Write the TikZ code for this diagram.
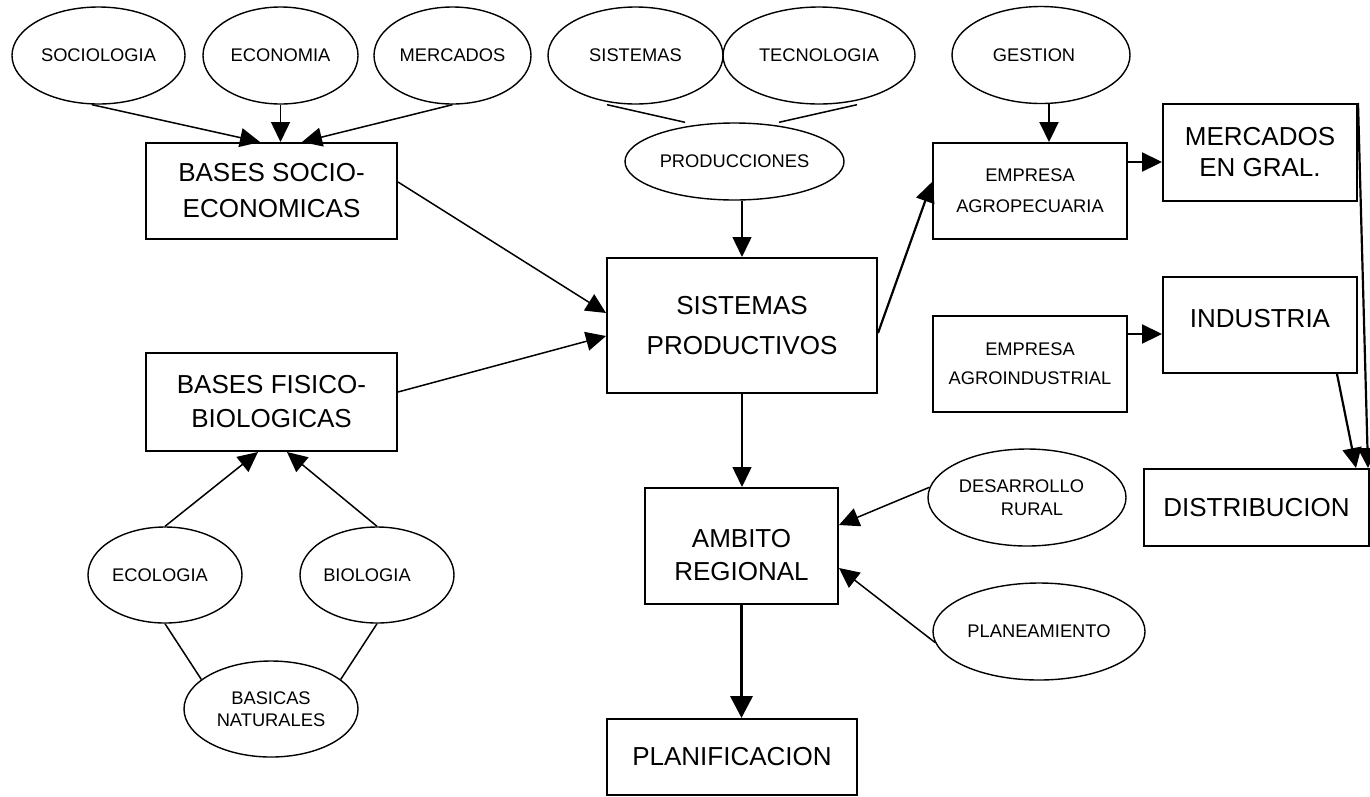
\documentclass[tikz,border=0pt]{standalone}
\usepackage{fontspec}
\setmainfont{Liberation Sans}
\usetikzlibrary{arrows.meta,shapes.geometric,calc}
\begin{document}
\begin{tikzpicture}[x=1pt,y=-1pt,
  ell/.style={ellipse, draw, line width=1.4pt, inner sep=0pt, align=center,
    font=\fontsize{18.3}{22.5}\selectfont},
  box/.style={rectangle, draw, line width=2pt, inner sep=0pt, align=center,
    font=\fontsize{26}{36}\selectfont},
  sbox/.style={box, font=\fontsize{18.3}{31}\selectfont},
  conn/.style={line width=1.5pt, -{Triangle[length=20pt,width=19pt]}},
  thickconn/.style={line width=2.2pt, -{Triangle[length=20pt,width=19pt]}},
  bigconn/.style={line width=3.5pt, -{Triangle[length=22pt,width=22pt]}},
  plainline/.style={line width=1.5pt}
]
\useasboundingbox (0,0) rectangle (1370,796);

% ellipses
\node[ell, minimum width=173pt, minimum height=97pt] (soc) at (98.5,55.5) {SOCIOLOGIA};
\node[ell, minimum width=155pt, minimum height=97pt] (eco) at (280.5,55.5) {ECONOMIA};
\node[ell, minimum width=157pt, minimum height=97pt] (mer) at (452.5,55.5) {MERCADOS};
\node[ell, minimum width=175pt, minimum height=97pt] (sis) at (635.5,55.5) {SISTEMAS};
\node[ell, minimum width=192pt, minimum height=97pt] (tec) at (819,55.5) {TECNOLOGIA};
\node[ell, minimum width=178pt, minimum height=97pt] (ges) at (1041,55) {\hspace*{-14pt}GESTION};
\node[ell, minimum width=219pt, minimum height=77pt] (prod) at (734.5,161.5) {PRODUCCIONES};
\node[ell, minimum width=154pt, minimum height=96pt] (ecol) at (165,575) {\hspace*{-10pt}ECOLOGIA};
\node[ell, minimum width=154pt, minimum height=96pt] (biol) at (377,575) {\hspace*{-20pt}BIOLOGIA};
\node[ell, minimum width=174pt, minimum height=96pt] (basn) at (271,709) {BASICAS\\NATURALES};
\node[ell, minimum width=198pt, minimum height=97pt] (desr) at (1027,497.5) {\hspace*{-11pt}DESARROLLO\\\hspace*{10pt}RURAL};
\node[ell, minimum width=212pt, minimum height=97pt] (plan) at (1039,631.5) {PLANEAMIENTO};

% boxes
\node[box, minimum width=251pt, minimum height=96pt] (bse) at (271.5,191) {BASES SOCIO-\\ECONOMICAS};
\node[box, minimum width=251pt, minimum height=98pt, font=\fontsize{26}{34}\selectfont] (bfb) at (271.5,402) {BASES FISICO-\\BIOLOGICAS};
\node[box, minimum width=270pt, minimum height=135pt, font=\fontsize{26}{40}\selectfont] (sp) at (742,325.5) {SISTEMAS\\PRODUCTIVOS};
\node[box, minimum width=193pt, minimum height=116pt, font=\fontsize{26}{33}\selectfont] (amb) at (741.5,546) {\rule{0pt}{36pt}AMBITO\\REGIONAL};
\node[box, minimum width=250pt, minimum height=76pt] (pln) at (732,757) {PLANIFICACION};
\node[sbox, minimum width=194pt, minimum height=96pt] (ea) at (1030,191) {EMPRESA\\AGROPECUARIA};
\node[box, minimum width=194pt, minimum height=97pt, font=\fontsize{26}{31}\selectfont] (mg) at (1260,152.5) {MERCADOS\\EN GRAL.};
\node[box, minimum width=194pt, minimum height=96pt, text depth=14pt] (ind) at (1260,325) {INDUSTRIA};
\node[sbox, minimum width=194pt, minimum height=96pt, font=\fontsize{18.3}{29}\selectfont] (eai) at (1030,364) {EMPRESA\\AGROINDUSTRIAL};
\node[box, minimum width=225pt, minimum height=77pt] (dist) at (1256.5,507.5) {DISTRIBUCION};

% connectors
\draw[conn] ([xshift=-6.5pt]soc.south) -- ([xshift=-11.5pt]bse.north);
\draw[conn] (eco.south) -- (eco.south |- bse.north);
\draw[conn] (mer.south) -- ([xshift=30.5pt]bse.north);
\draw[plainline] ([xshift=-28.5pt]sis.south) -- ([xshift=-49.5pt]prod.north);
\draw[plainline] ([xshift=38pt]tec.south) -- ([xshift=44.5pt]prod.north);
\draw[conn] (prod.south -| sp.north) -- (sp.north);
\draw[conn] ([yshift=9pt]bse.east) -- ([yshift=12.5pt]sp.west);
\draw[conn] ([yshift=10pt]bfb.east) -- ([yshift=-10.5pt]sp.west);
\draw[conn] (ecol.north) -- ([xshift=-13.5pt]bfb.south);
\draw[conn] (biol.north) -- ([xshift=15.5pt]bfb.south);
\draw[plainline] (ecol.south) -- (basn.157);
\draw[plainline] (biol.south) -- (basn.23);
\draw[thickconn] ([yshift=-7.5pt]sp.east) -- ([yshift=9pt]ea.west);
\draw[thickconn] ([xshift=8pt]ges.south) -- ([xshift=8pt]ges.south |- ea.north);
\draw[thickconn] ([yshift=29pt]ea.east) -- ([yshift=29pt]ea.east -| mg.west);
\draw[thickconn] ([yshift=30pt]eai.east) -- ([yshift=30pt]eai.east -| ind.west);
\draw[thickconn] (mg.north east) -- ([xshift=-2pt]dist.north east);
\draw[thickconn] ([xshift=77pt]ind.south) -- ([xshift=-14pt]dist.north east);
\draw[conn] (sp.south) -- (sp.south |- amb.north);
\draw[bigconn] (amb.south) -- (amb.south |- pln.north);
\draw[conn] (desr.174) -- ([yshift=21pt]amb.east);
\draw[conn] (plan.186) -- ([yshift=-22pt]amb.east);
\end{tikzpicture}
\end{document}
